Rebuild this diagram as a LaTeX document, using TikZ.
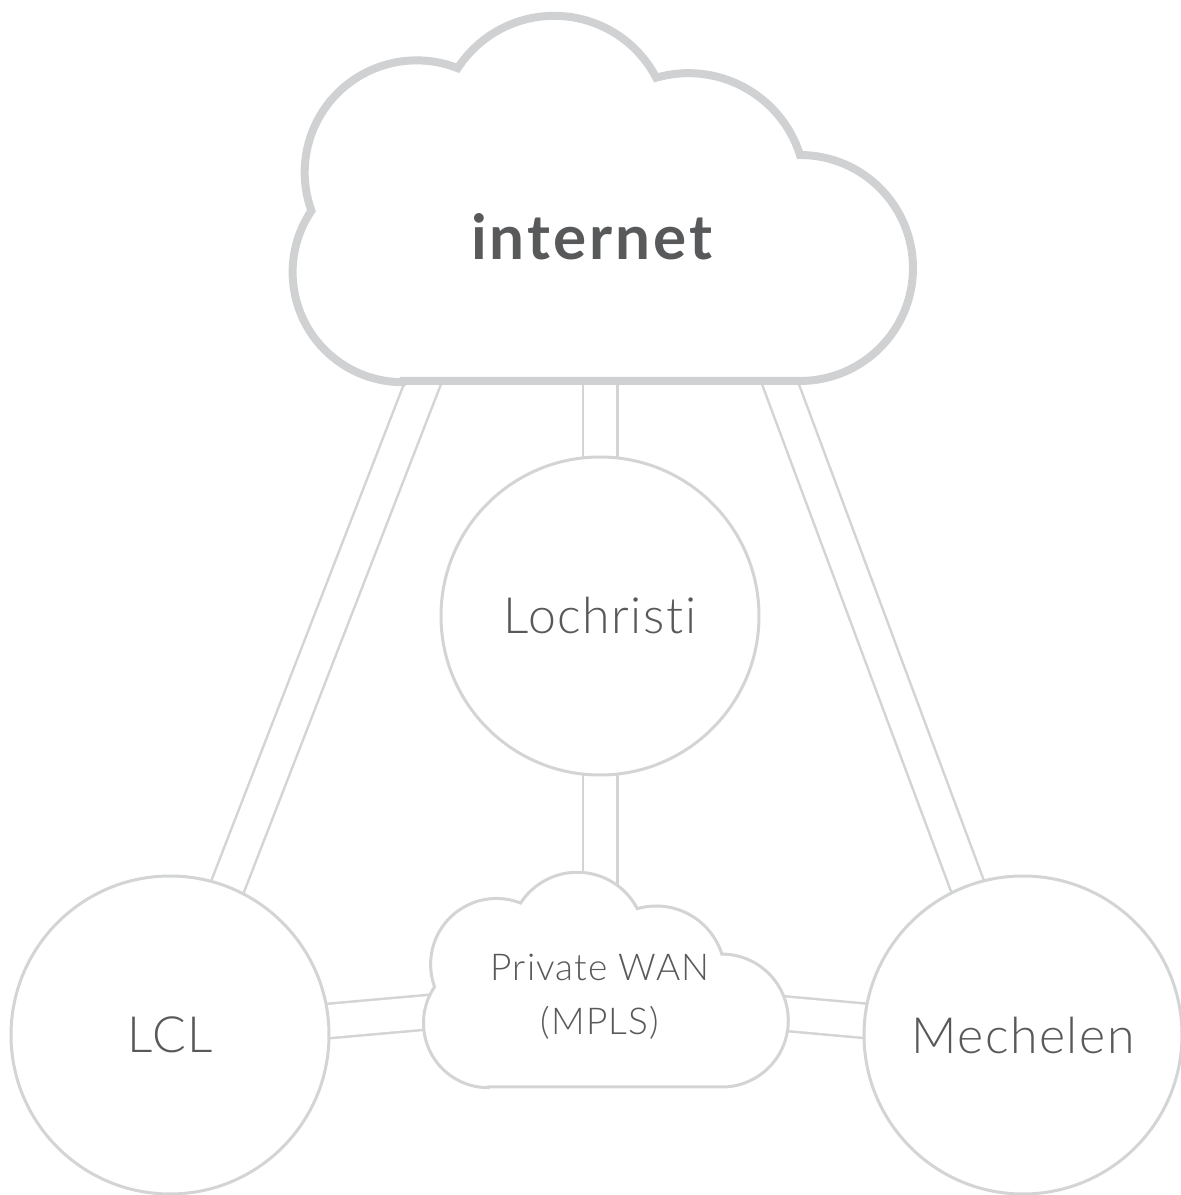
\documentclass[tikz,border=0pt]{standalone}
\usepackage{fontspec}
\setmainfont{Lato}[Ligatures=NoCommon]
\newfontfamily\lightfont{Lato Light}[Ligatures=NoCommon, LetterSpace=3]
\newfontfamily\boldwide{Lato Bold}[Ligatures=NoCommon, LetterSpace=5]
\usepackage{xcolor}
\usepackage{tikz}
\usetikzlibrary{backgrounds}
\definecolor{linegray}{HTML}{D3D4D5}
\definecolor{cloudgray}{HTML}{D0D1D3}
\definecolor{textgray}{HTML}{58595B}
\tikzset{site/.style={draw=linegray, circle, fill=white, line width=3pt,
        minimum size=318pt, inner sep=0pt, text=textgray,
        font=\lightfont\fontsize{50}{60}\selectfont},
    link/.style={draw=linegray, line width=2.5pt, double=white, double distance=32pt},
    cloudlabel/.style={text=textgray, align=center}}
% cloud outline, origin in the middle of the flat bottom
\newcommand{\cloudshape}[1]{%
    \draw[#1] (-200,0) -- (197,0)
        arc[start angle=-90, end angle=90, radius=113]
        arc[start angle=17.5, end angle=106, radius=117]
        arc[start angle=27.5, end angle=147, radius=115]
        arc[start angle=68.5, end angle=200, radius=112]
        arc[start angle=146, end angle=270, radius=110] -- cycle;}

\begin{document}
\begin{tikzpicture}[x=1pt, y=1pt]
    \useasboundingbox (0,0) rectangle (1181,1195);
    % clouds
    \cloudshape{draw=cloudgray, fill=white, line width=8pt, shift={(603,814)}}
    \cloudshape{draw=linegray, fill=white, line width=3pt, shift={(606,108)}, scale=0.588}
    \node[cloudlabel, font=\boldwide\fontsize{62}{72}\selectfont] (inet) at (592,958) {internet};
    \node[cloudlabel, font=\lightfont\fontsize{37}{54}\selectfont] (wan) at (600,198) {Private WAN\\(MPLS)};
    % sites
    \node[site] (loch) at (600,579) {Lochristi};
    \node[site] (lcl) at (170,160) {LCL};
    \node[site] (mech) at (1023,160) {Mechelen};
    % where the links leave the internet cloud
    \coordinate (inetL) at (426,820);
    \coordinate (inetM) at (600,820);
    \coordinate (inetR) at (777,820);
    \begin{pgfonlayer}{background}
        \draw[link] (inetL) -- (lcl.center);
        \draw[link] (inetM) -- (loch.center);
        \draw[link] (inetR) -- (mech.center);
        \draw[link] (loch.center) -- (wan.center);
        \draw[link] (lcl.center) -- (wan.center);
        \draw[link] (wan.center) -- (mech.center);
    \end{pgfonlayer}
\end{tikzpicture}
\end{document}
